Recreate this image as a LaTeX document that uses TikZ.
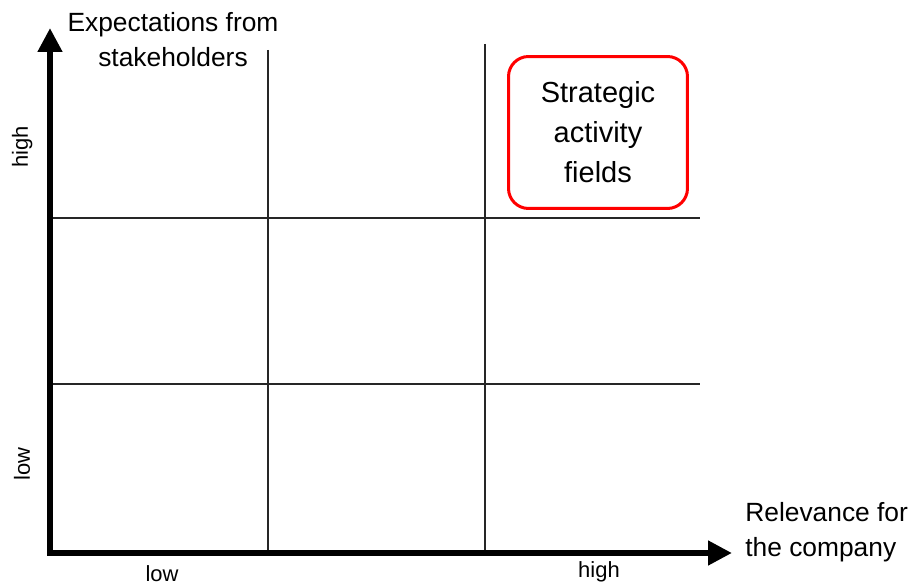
\documentclass[tikz,border=0pt]{standalone}
\usepackage{fontspec}
\setmainfont{Liberation Sans}
\usetikzlibrary{arrows.meta}
\begin{document}
\begin{tikzpicture}[x=0.02cm, y=-0.02cm, line join=miter,
    axisline/.style={line width=0.12cm, {Triangle[length=0.48cm,width=0.47cm]}-{Triangle[length=0.48cm,width=0.47cm]}},
    gridline/.style={line width=0.6pt, black!85},
    axistitle/.style={font=\fontsize{15}{19.9}\selectfont, inner sep=0pt},
    ticklabel/.style={font=\fontsize{12.5}{15}\selectfont, inner sep=0pt, anchor=base},
    fieldbox/.style={draw=red, line width=0.06cm, rounded corners=0.4cm,
        minimum width=3.58cm, minimum height=3.04cm, inner sep=0pt,
        align=center, font=\fontsize{16.5}{22.8}\selectfont}]
    \useasboundingbox (0,0) rectangle (910,587);
    % Achsen
    \coordinate (ytip) at (50,28);
    \coordinate (origin) at (50,553);
    \coordinate (xtip) at (732,553);
    % Raster
    \coordinate (v1top) at (268,50);
    \coordinate (v1bot) at (268,551);
    \coordinate (v2top) at (485,44);
    \coordinate (v2bot) at (485,551);
    \coordinate (h1left) at (53,218);
    \coordinate (h1right) at (700,218);
    \coordinate (h2left) at (53,384);
    \coordinate (h2right) at (700,384);
    \draw[gridline] (v1top) -- (v1bot);
    \draw[gridline] (v2top) -- (v2bot);
    \draw[gridline] (h1left) -- (h1right);
    \draw[gridline] (h2left) -- (h2right);
    \draw[axisline] (ytip) -- (origin) -- (xtip);
    % Achsentitel
    \node[axistitle, align=center] (ytitle) at (173,40) {Expectations from\\stakeholders};
    \node[axistitle, align=left, anchor=west] (xtitle) at (745,532) {Relevance for\\the company};
    % Skala
    \node[ticklabel] (xlow) at (162,582) {low};
    \node[ticklabel] (xhigh) at (599,578) {high};
    \node[ticklabel, rotate=90] (yhigh) at (28,147) {high};
    \node[ticklabel, rotate=90] (ylow) at (30,464) {low};
    % Feld
    \node[fieldbox] (strategic) at (598,132.5) {Strategic\\activity\\fields};
\end{tikzpicture}
\end{document}
